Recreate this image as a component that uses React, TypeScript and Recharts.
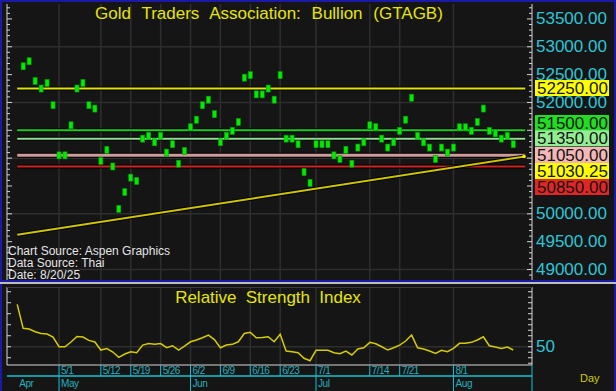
import { ComposedChart, Line, ReferenceDot, ReferenceLine, Scatter, XAxis, YAxis } from "recharts";

// Daily closes (index 0 has no bar, only an RSI value).
const closes: (number | null)[] = [
	null, 52650, 52740, 52385, 52250, 52350, 51950, 51050, 51050, 51590,
	52250, 52350, 51950, 51890, 50950, 51150, 50850, 50090, 50390, 50650,
	50590, 51350, 51400, 51285, 51400, 51100, 51250, 50900, 51130, 51555,
	51690, 51950, 52050, 51790, 51285, 51400, 51490, 51650, 52445, 52490,
	52145, 52145, 52250, 52050, 52490, 51350, 51350, 51250, 50750, 50555,
	51250, 51250, 51250, 51050, 50985, 51150, 50900, 51190, 51285, 51590,
	51555, 51350, 51190, 51285, 51490, 51690, 52085, 51400, 51285, 51190,
	50985, 51190, 51100, 51190, 51555, 51555, 51490, 51650, 51890, 51490,
	51445, 51350, 51400, 51250,
];

const rsi = [
	88.5, 66.7, 66.1, 63.6, 62.0, 61.5, 58.8, 50.0, 50.0, 54.3,
	59.3, 58.8, 55.8, 54.3, 47.0, 48.4, 45.2, 40.4, 43.4, 45.5,
	44.5, 51.5, 52.9, 52.2, 52.9, 49.1, 50.9, 47.0, 50.6, 54.5,
	56.1, 58.2, 60.6, 56.5, 49.1, 51.5, 52.2, 54.5, 62.0, 63.1,
	58.2, 58.5, 59.1, 54.5, 61.3, 46.1, 45.5, 44.5, 39.5, 37.3,
	46.7, 46.7, 46.7, 44.5, 43.6, 46.1, 42.5, 47.9, 49.1, 54.0,
	52.7, 50.0, 47.0, 49.1, 51.5, 55.2, 60.6, 49.1, 47.9, 46.1,
	44.0, 46.7, 45.5, 48.5, 53.1, 53.1, 54.0, 56.1, 59.1, 50.9,
	49.7, 48.5, 49.7, 47.0,
];

const dayTickIdx = [7, 14, 19, 24, 29, 34, 39, 44, 50, 59, 64, 73];
const dayTickLabels = ["5/1", "5/12", "5/19", "5/26", "6/2", "6/9", "6/16", "6/23", "7/1", "7/14", "7/21", "8/1"];
const monthTickIdx = [0, 7, 29, 50, 73];
const monthLabels = ["Apr", "May", "Jun", "Jul", "Aug"];

const priceLabels = [49000, 49500, 50000, 52000, 52500, 53000, 53500];
const gridPrices = [49000, 50000, 51000, 52000, 53000];

const levelValues = [52250, 51500, 51350, 51050, 50850];
const levelColors = ["#e2e200", "#1ccf1c", "#8fdc8f", "#cf9a9a", "#cf2323"];
const tagColors = ["#ffff00", "#22dd22", "#93ee93", "#f3b7b7", "#e02626"];
const tagNudge = [-0.5, -7.3, -0.3, -0.4, 20.5];

const trendStart = 49626;
const trendEnd = 51030.25;
const trendNudge = 14.5;

const data = closes.map((c, i) => ({ i, close: c, rsi: rsi[i] }));

const FONT = "'Liberation Sans', Arial, sans-serif";
const X_DOMAIN: [number, number] = [-1.707, 86.14];
const P_DOMAIN: [number, number] = [48794, 53768];
const R_DOMAIN: [number, number] = [33.4, 104.3];
const LINE_END = 85;

const minorPrice: number[] = [];
for (let v = 48800; v <= 53700; v += 100) minorPrice.push(v);
const rsiRight = [35, 40, 45, 50, 55, 60, 65, 70, 75, 80, 85, 90, 95, 100];
const rsiLeft = [40, 50, 60, 70, 80, 90, 100];

const AXIS = "#d6d6d6";
const CYAN = "#2cc5d5";
const GRID = "#2e2e2e";

function PriceRightTick({ x, y, payload }: any) {
	const v = payload.value as number;
	const major = v % 500 === 0;
	return (
		<g>
			<line x1={x} x2={x - (major ? 5 : 3)} y1={y} y2={y} stroke={AXIS} />
			{priceLabels.includes(v) && (
				<text x={x + 4} y={y} dominantBaseline="central" fill={CYAN} fontSize={17} fontFamily={FONT}>
					{v.toFixed(2)}
				</text>
			)}
		</g>
	);
}

function PriceLeftTick({ x, y, payload }: any) {
	const major = (payload.value as number) % 500 === 0;
	return <line x1={x} x2={x + (major ? 5 : 3)} y1={y} y2={y} stroke={AXIS} />;
}

function RsiRightTick({ x, y, payload }: any) {
	const v = payload.value as number;
	return (
		<g>
			<line x1={x} x2={x - 4} y1={y} y2={y} stroke={AXIS} />
			{v === 50 && (
				<text x={x + 4} y={y} dominantBaseline="central" fill={CYAN} fontSize={17} fontFamily={FONT}>
					50
				</text>
			)}
		</g>
	);
}

function RsiLeftTick({ x, y }: any) {
	return <line x1={x} x2={x + 4} y1={y} y2={y} stroke={AXIS} />;
}

function DayTick({ x, y, payload }: any) {
	const k = dayTickIdx.indexOf(payload.value);
	return (
		<g>
			<line x1={x} x2={x} y1={y} y2={y + 11} stroke="#12c4d0" />
			<text x={x + 2} y={y + 9} fill="#27adbd" fontSize={10} letterSpacing={-0.6} fontFamily={FONT}>
				{dayTickLabels[k]}
			</text>
		</g>
	);
}

function MonthTick({ x, y, payload }: any) {
	const k = monthTickIdx.indexOf(payload.value);
	return (
		<g>
			{k > 0 && <line x1={x} x2={x} y1={y} y2={y + 15} stroke="#12c4d0" />}
			<text x={x + 2} y={y + 11} fill="#27adbd" fontSize={10} letterSpacing={-0.4} fontFamily={FONT}>
				{monthLabels[k]}
			</text>
		</g>
	);
}

function Candle(props: any) {
	const { cx, cy, payload } = props;
	if (payload?.close == null || !Number.isFinite(cy)) return null;
	return <rect x={cx - 2} y={cy - 3.5} width={4} height={7} fill="#00ec00" stroke="#00a000" strokeWidth={0.6} />;
}

function Tag({ cy, text, bg, nudge }: { cy: number; text: string; bg: string; nudge: number }) {
	const c = cy + nudge;
	return (
		<g>
			<rect x={535} y={c - 8} width={74} height={16} fill={bg} />
			<text x={537} y={c + 0.5} dominantBaseline="central" fill="#141414" fontSize={17} fontFamily={FONT}>
				{text}
			</text>
		</g>
	);
}

function PricePanel() {
	return (
		<ComposedChart width={616} height={282} data={data} margin={{ top: 4, right: 0, bottom: 1, left: 0 }}>
			<XAxis dataKey="i" type="number" domain={X_DOMAIN} allowDataOverflow hide />
			<YAxis
				yAxisId="L"
				orientation="left"
				width={7}
				type="number"
				domain={P_DOMAIN}
				allowDataOverflow
				ticks={minorPrice}
				interval={0}
				tickSize={0}
				tickMargin={0}
				tickLine={false}
				axisLine={{ stroke: AXIS }}
				tick={<PriceLeftTick />}
			/>
			<YAxis
				yAxisId="R"
				orientation="right"
				width={84}
				type="number"
				domain={P_DOMAIN}
				allowDataOverflow
				ticks={minorPrice}
				interval={0}
				tickSize={0}
				tickMargin={0}
				tickLine={false}
				axisLine={{ stroke: AXIS }}
				tick={<PriceRightTick />}
			/>
			{gridPrices.map((v) => (
				<ReferenceLine key={"gy" + v} yAxisId="R" y={v} stroke={GRID} strokeWidth={1.5} />
			))}
			{dayTickIdx.map((d) => (
				<ReferenceLine key={"gx" + d} yAxisId="R" x={d} stroke={GRID} strokeWidth={1.5} />
			))}
			{levelValues.map((v, k) => (
				<ReferenceLine
					key={"ls" + v}
					yAxisId="R"
					segment={[{ x: 0, y: v }, { x: LINE_END, y: v }]}
					stroke="#000"
					strokeWidth={k === 3 ? 5 : 4}
					ifOverflow="visible"
				/>
			))}
			{levelValues.map((v, k) => (
				<ReferenceLine
					key={"l" + v}
					yAxisId="R"
					segment={[{ x: 0, y: v }, { x: LINE_END, y: v }]}
					stroke={levelColors[k]}
					strokeWidth={k === 3 ? 3 : 2}
					ifOverflow="visible"
				/>
			))}
			<ReferenceLine
				yAxisId="R"
				segment={[{ x: 0, y: trendStart }, { x: LINE_END, y: trendEnd }]}
				stroke="#000"
				strokeWidth={4}
				ifOverflow="visible"
			/>
			<ReferenceLine
				yAxisId="R"
				segment={[{ x: 0, y: trendStart }, { x: LINE_END, y: trendEnd }]}
				stroke="#cfc400"
				strokeWidth={2}
				ifOverflow="visible"
			/>
			<ReferenceDot yAxisId="R" x={LINE_END - 0.2} y={trendEnd} r={1.8} fill="#f4f000" stroke="none" ifOverflow="visible" />
			<Scatter yAxisId="R" dataKey="close" isAnimationActive={false} shape={(p: any) => <Candle {...p} />} />
			{levelValues.map((v, k) => (
				<ReferenceDot
					key={"t" + v}
					yAxisId="R"
					x={LINE_END}
					y={v}
					ifOverflow="visible"
					shape={(p: any) => <Tag cy={p.cy} text={v.toFixed(2)} bg={tagColors[k]} nudge={tagNudge[k]} />}
				/>
			))}
			<ReferenceDot
				yAxisId="R"
				x={LINE_END}
				y={trendEnd}
				ifOverflow="visible"
				shape={(p: any) => <Tag cy={p.cy} text={trendEnd.toFixed(2)} bg="#ffff00" nudge={trendNudge} />}
			/>
		</ComposedChart>
	);
}

function RsiPanel() {
	return (
		<ComposedChart width={616} height={108} data={data} margin={{ top: 4, right: 0, bottom: 0, left: 0 }}>
			<XAxis
				xAxisId="d"
				dataKey="i"
				type="number"
				domain={X_DOMAIN}
				allowDataOverflow
				height={11}
				ticks={dayTickIdx}
				interval={0}
				tickSize={0}
				tickMargin={0}
				tickLine={false}
				axisLine={{ stroke: AXIS }}
				tick={<DayTick />}
			/>
			<XAxis
				xAxisId="m"
				dataKey="i"
				type="number"
				domain={X_DOMAIN}
				allowDataOverflow
				height={15}
				ticks={monthTickIdx}
				interval={0}
				tickSize={0}
				tickMargin={0}
				tickLine={false}
				axisLine={{ stroke: "#12c4d0", strokeWidth: 1.5 }}
				tick={<MonthTick />}
			/>
			<YAxis
				yAxisId="L"
				orientation="left"
				width={7}
				type="number"
				domain={R_DOMAIN}
				allowDataOverflow
				ticks={rsiLeft}
				interval={0}
				tickSize={0}
				tickMargin={0}
				tickLine={false}
				axisLine={{ stroke: AXIS }}
				tick={<RsiLeftTick />}
			/>
			<YAxis
				yAxisId="R"
				orientation="right"
				width={84}
				type="number"
				domain={R_DOMAIN}
				allowDataOverflow
				ticks={rsiRight}
				interval={0}
				tickSize={0}
				tickMargin={0}
				tickLine={false}
				axisLine={{ stroke: AXIS }}
				tick={<RsiRightTick />}
			/>
			<ReferenceLine xAxisId="d" yAxisId="R" y={50} stroke={GRID} strokeWidth={1.5} />
			{dayTickIdx.map((d) => (
				<ReferenceLine key={"rg" + d} xAxisId="d" yAxisId="R" x={d} stroke={GRID} strokeWidth={1.5} />
			))}
			<Line
				xAxisId="d"
				yAxisId="R"
				dataKey="rsi"
				type="linear"
				stroke="#d4cc00"
				strokeWidth={1.5}
				dot={false}
				isAnimationActive={false}
			/>
		</ComposedChart>
	);
}

export default function App() {
	return (
		<div
			style={{
				position: "absolute",
				left: 0,
				top: 0,
				width: 616,
				height: 391,
				background: "#151515",
				overflow: "hidden",
			}}
		>
			<div style={{ position: "absolute", left: 0, top: 0 }}>
				<PricePanel />
			</div>
			<div style={{ position: "absolute", left: 0, top: 283 }}>
				<RsiPanel />
			</div>
			<svg width={616} height={391} style={{ position: "absolute", left: 0, top: 0, pointerEvents: "none" }}>
				<rect x={0} y={0} width={616} height={2} fill="#1a1aa6" />
				<rect x={0} y={0} width={2} height={391} fill="#1a1aa6" />
				<rect x={614} y={0} width={2} height={391} fill="#1a1aa6" />
				<rect x={0} y={280} width={616} height={2} fill="#1a1aa6" />
				<rect x={0} y={282} width={616} height={2} fill="#bdbdbd" />
				<line x1={7} x2={532} y1={287.5} y2={287.5} stroke="#3a3a3a" />
				<line x1={532} x2={532} y1={365} y2={391} stroke="#12c4d0" />
				<text x={269} y={19} textAnchor="middle" fill="#e6e600" fontSize={17} wordSpacing={6} fontFamily={FONT}>
					Gold Traders Association: Bullion (GTAGB)
				</text>
				<text x={268} y={303} textAnchor="middle" fill="#e6e600" fontSize={17} wordSpacing={4.5} fontFamily={FONT}>
					Relative Strength Index
				</text>
				<g fill="#e4e4e4" fontSize={12} fontFamily={FONT}>
					<text x={8} y={255}>Chart Source: Aspen Graphics</text>
					<text x={8} y={267}>Data Source: Thai</text>
					<text x={8} y={279}>Date: 8/20/25</text>
				</g>
				<text x={580} y={382} fill="#cccc00" fontSize={11} fontFamily={FONT}>
					Day
				</text>
			</svg>
		</div>
	);
}
